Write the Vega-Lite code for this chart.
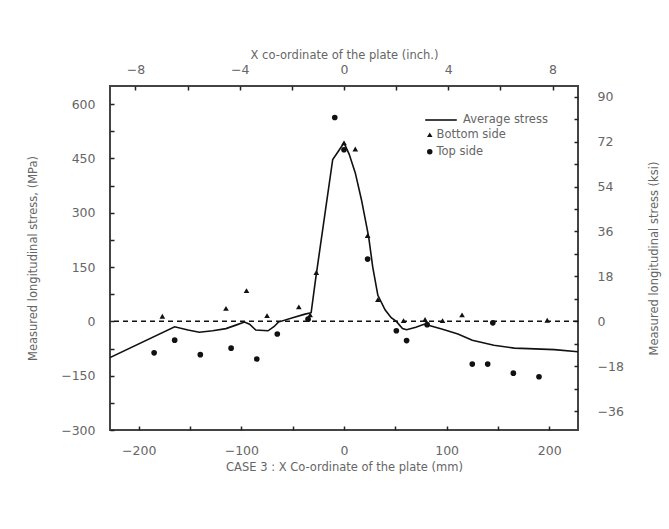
{
  "$schema": "https://vega.github.io/schema/vega-lite/v6.json",
  "width": 468,
  "height": 344,
  "autosize": {"type": "none"},
  "padding": {"left": 110, "top": 86, "right": 91, "bottom": 99},
  "background": "white",
  "config": {
    "font": "DejaVu Sans",
    "view": {"stroke": "#444", "strokeWidth": 2},
    "axis": {
      "domain": false,
      "grid": false,
      "tickSize": -4,
      "tickColor": "#222",
      "tickWidth": 1.5,
      "labelColor": "#666",
      "labelFontSize": 12.5,
      "titleColor": "#666",
      "titleFontSize": 11.5,
      "titleFontWeight": "normal"
    },
    "legend": {
      "labelColor": "#666",
      "labelFontSize": 11.5
    }
  },
  "datasets": {
    "avg": [
      {"x_mm": -228, "stress": -100}, {"x_mm": -165, "stress": -15}, {"x_mm": -152, "stress": -24},
      {"x_mm": -141, "stress": -30}, {"x_mm": -128, "stress": -26}, {"x_mm": -115, "stress": -20},
      {"x_mm": -104, "stress": -9}, {"x_mm": -97, "stress": -2}, {"x_mm": -92, "stress": -8},
      {"x_mm": -86, "stress": -24}, {"x_mm": -74, "stress": -26}, {"x_mm": -68, "stress": -14},
      {"x_mm": -64, "stress": -2}, {"x_mm": -50, "stress": 10}, {"x_mm": -38, "stress": 20},
      {"x_mm": -32, "stress": 24}, {"x_mm": -28, "stress": 110}, {"x_mm": -11, "stress": 447},
      {"x_mm": -5, "stress": 472}, {"x_mm": 0, "stress": 493}, {"x_mm": 5, "stress": 462},
      {"x_mm": 11, "stress": 410}, {"x_mm": 17, "stress": 336}, {"x_mm": 24, "stress": 234},
      {"x_mm": 28, "stress": 150}, {"x_mm": 33, "stress": 72}, {"x_mm": 40, "stress": 32},
      {"x_mm": 46, "stress": 10}, {"x_mm": 51, "stress": 0}, {"x_mm": 57, "stress": -20},
      {"x_mm": 61, "stress": -23}, {"x_mm": 70, "stress": -16}, {"x_mm": 78, "stress": -8},
      {"x_mm": 84, "stress": -12}, {"x_mm": 96, "stress": -22}, {"x_mm": 111, "stress": -35},
      {"x_mm": 125, "stress": -52}, {"x_mm": 146, "stress": -66}, {"x_mm": 166, "stress": -74},
      {"x_mm": 186, "stress": -76}, {"x_mm": 205, "stress": -78}, {"x_mm": 228, "stress": -84}
    ],
    "pts": [
      {"series": "Bottom side", "x_mm": -177, "stress": 14},
      {"series": "Bottom side", "x_mm": -115, "stress": 36},
      {"series": "Bottom side", "x_mm": -95, "stress": 85},
      {"series": "Bottom side", "x_mm": -75, "stress": 16},
      {"series": "Bottom side", "x_mm": -44, "stress": 40},
      {"series": "Bottom side", "x_mm": -33, "stress": 18},
      {"series": "Bottom side", "x_mm": -27, "stress": 135},
      {"series": "Bottom side", "x_mm": 0, "stress": 493},
      {"series": "Bottom side", "x_mm": 11, "stress": 476},
      {"series": "Bottom side", "x_mm": 23, "stress": 237},
      {"series": "Bottom side", "x_mm": 33, "stress": 60},
      {"series": "Bottom side", "x_mm": 58, "stress": 2},
      {"series": "Bottom side", "x_mm": 79, "stress": 5},
      {"series": "Bottom side", "x_mm": 96, "stress": 2},
      {"series": "Bottom side", "x_mm": 115, "stress": 18},
      {"series": "Bottom side", "x_mm": 198, "stress": 3},
      {"series": "Top side", "x_mm": -185, "stress": -87},
      {"series": "Top side", "x_mm": -165, "stress": -52},
      {"series": "Top side", "x_mm": -140, "stress": -92},
      {"series": "Top side", "x_mm": -110, "stress": -74},
      {"series": "Top side", "x_mm": -85, "stress": -104},
      {"series": "Top side", "x_mm": -65, "stress": -35},
      {"series": "Top side", "x_mm": -35, "stress": 6},
      {"series": "Top side", "x_mm": -9, "stress": 563},
      {"series": "Top side", "x_mm": 0, "stress": 474},
      {"series": "Top side", "x_mm": 23, "stress": 172},
      {"series": "Top side", "x_mm": 51, "stress": -26},
      {"series": "Top side", "x_mm": 61, "stress": -53},
      {"series": "Top side", "x_mm": 81, "stress": -9},
      {"series": "Top side", "x_mm": 145, "stress": -4},
      {"series": "Top side", "x_mm": 125, "stress": -118},
      {"series": "Top side", "x_mm": 140, "stress": -118},
      {"series": "Top side", "x_mm": 165, "stress": -143},
      {"series": "Top side", "x_mm": 190, "stress": -153}
    ]
  },
  "layer": [
    {
      "data": {"values": [{"zero": 0}]},
      "mark": {"type": "rule", "color": "#111", "strokeWidth": 1.5, "strokeDash": [5, 4]},
      "encoding": {
        "y": {"field": "zero", "type": "quantitative", "axis": null,
              "scale": {"domain": [-300, 650], "nice": false, "zero": false}}
      }
    },
    {
      "data": {"name": "avg"},
      "mark": {"type": "line", "strokeWidth": 1.6, "clip": true},
      "encoding": {
        "x": {
          "field": "x_mm", "type": "quantitative",
          "scale": {"domain": [-228, 228], "nice": false, "zero": false},
          "axis": {
            "orient": "bottom",
            "values": [-200, -150, -100, -50, 0, 50, 100, 150, 200],
            "labelExpr": "datum.value % 100 == 0 ? datum.label : ''",
            "labelPadding": 18,
            "title": "CASE 3 : X Co-ordinate of the plate (mm)",
            "titlePadding": 5
          }
        },
        "y": {
          "field": "stress", "type": "quantitative",
          "scale": {"domain": [-300, 650], "nice": false, "zero": false},
          "axis": {
            "orient": "left",
            "values": [-300, -225, -150, -75, 0, 75, 150, 225, 300, 375, 450, 525, 600],
            "labelExpr": "datum.value % 150 == 0 ? datum.label : ''",
            "labelPadding": 19,
            "title": "Measured longitudinal stress, (MPa)",
            "titlePadding": 22
          }
        },
        "color": {
          "datum": "Average stress", "type": "nominal",
          "scale": {"range": ["#111"]},
          "legend": {
            "title": null,
            "orient": "none",
            "legendX": 314,
            "legendY": 17,
            "symbolType": "stroke",
            "symbolSize": 1000,
            "symbolStrokeWidth": 1.6,
            "labelOffset": 5
          }
        }
      }
    },
    {
      "data": {"name": "pts"},
      "mark": {"type": "point", "filled": true, "color": "#111", "opacity": 1, "size": 32},
      "encoding": {
        "x": {
          "field": "x_mm", "type": "quantitative",
          "scale": {"domain": [-228, 228], "nice": false, "zero": false},
          "axis": {
            "orient": "top",
            "values": [-203.2, -152.4, -101.6, -50.8, 0, 50.8, 101.6, 152.4, 203.2],
            "labelExpr": "round(datum.value / 25.4) % 4 == 0 ? format(round(datum.value / 25.4), 'd') : ''",
            "labelPadding": 14,
            "title": "X co-ordinate of the plate (inch.)",
            "titlePadding": 3
          }
        },
        "y": {
          "field": "stress", "type": "quantitative",
          "scale": {"domain": [-300, 650], "nice": false, "zero": false},
          "axis": {
            "orient": "right",
            "values": [-248.211, -186.158, -124.106, -62.053, 0, 62.053, 124.106, 186.158, 248.211, 310.264, 372.317, 434.37, 496.422, 558.475, 620.528],
            "labelExpr": "round(datum.value / 6.894757) % 18 == 0 ? format(round(datum.value / 6.894757), 'd') : ''",
            "labelPadding": 23,
            "title": "Measured longitudinal stress (ksi)",
            "titleAngle": 270,
            "titlePadding": 36
          }
        },
        "shape": {
          "field": "series", "type": "nominal",
          "scale": {"domain": ["Bottom side", "Top side"],
                    "range": ["triangle-up", "circle"]},
          "legend": {
            "title": null,
            "orient": "none",
            "legendX": 314,
            "legendY": 43,
            "symbolSize": 30,
            "symbolFillColor": "#111",
            "rowPadding": 4,
            "labelOffset": 1
          }
        }
      }
    }
  ],
  "resolve": {"axis": {"x": "independent", "y": "independent"}}
}
